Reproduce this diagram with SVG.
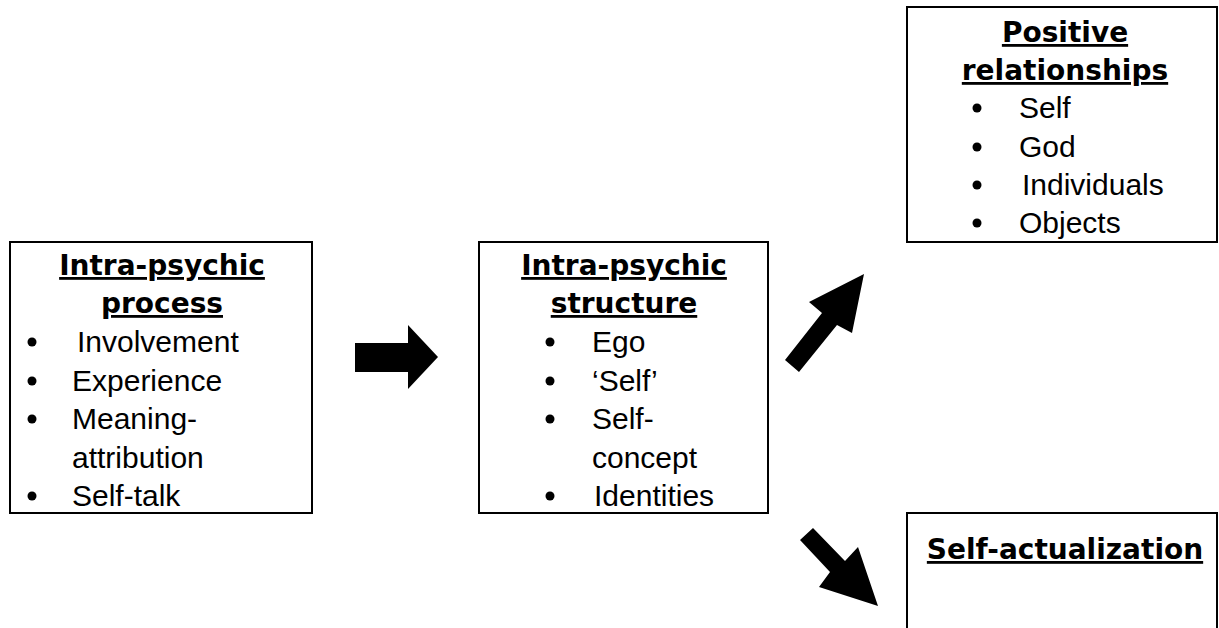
<svg xmlns="http://www.w3.org/2000/svg" width="1219" height="628" viewBox="0 0 1219 628">
<style>
.box{fill:#fff;stroke:#000;stroke-width:2}
.t{font-family:"DejaVu Sans",Verdana,sans-serif;font-weight:bold;font-size:28px;text-decoration:underline;text-anchor:middle;fill:#000}
.b{font-family:"Liberation Sans",Arial,sans-serif;font-size:30px;fill:#000}
.arrow{fill:#000}
</style>
<rect width="1219" height="628" fill="#fff"/>
<g id="process">
<rect class="box" x="10" y="242" width="302" height="271"/>
<text class="t" x="162" y="275">Intra-psychic</text>
<text class="t" x="162" y="313">process</text>
<circle cx="32" cy="342" r="4.5"/><text class="b" x="77" y="352">Involvement</text>
<circle cx="32" cy="381" r="4.5"/><text class="b" x="72" y="390.5">Experience</text>
<circle cx="32" cy="419" r="4.5"/><text class="b" x="72" y="429">Meaning-</text>
<text class="b" x="72" y="467.5">attribution</text>
<circle cx="32" cy="496" r="4.5"/><text class="b" x="72" y="506">Self-talk</text>
</g>
<g id="structure">
<rect class="box" x="479" y="242" width="289" height="271"/>
<text class="t" x="624" y="275">Intra-psychic</text>
<text class="t" x="624" y="313">structure</text>
<circle cx="550" cy="342" r="4.5"/><text class="b" x="592" y="352">Ego</text>
<circle cx="550" cy="381" r="4.5"/><text class="b" x="592" y="390.5">‘Self’</text>
<circle cx="550" cy="419" r="4.5"/><text class="b" x="592" y="429">Self-</text>
<text class="b" x="592" y="467.5">concept</text>
<circle cx="550" cy="496" r="4.5"/><text class="b" x="594" y="506">Identities</text>
</g>
<g id="relationships">
<rect class="box" x="907" y="7" width="310" height="235"/>
<text class="t" x="1065" y="42">Positive</text>
<text class="t" x="1065" y="80">relationships</text>
<circle cx="977" cy="108" r="4.5"/><text class="b" x="1019" y="118">Self</text>
<circle cx="977" cy="147" r="4.5"/><text class="b" x="1019" y="156.5">God</text>
<circle cx="977" cy="185" r="4.5"/><text class="b" x="1022" y="195">Individuals</text>
<circle cx="977" cy="223" r="4.5"/><text class="b" x="1019" y="233">Objects</text>
</g>
<g id="actualization">
<rect class="box" x="907" y="513" width="310" height="130"/>
<text class="t" x="1065" y="559">Self-actualization</text>
</g>
<g id="connectors">
<polygon class="arrow" points="355,343 408,343 408,325 438,357 408,389 408,372 355,372"/>
<polygon class="arrow" points="864,274 852,333 837,325 799,372 785,360 822,313 809,302"/>
<polygon class="arrow" points="813,528 845,561 858,547 878,606 819,587 830,572 800,540"/>
</g>
</svg>
